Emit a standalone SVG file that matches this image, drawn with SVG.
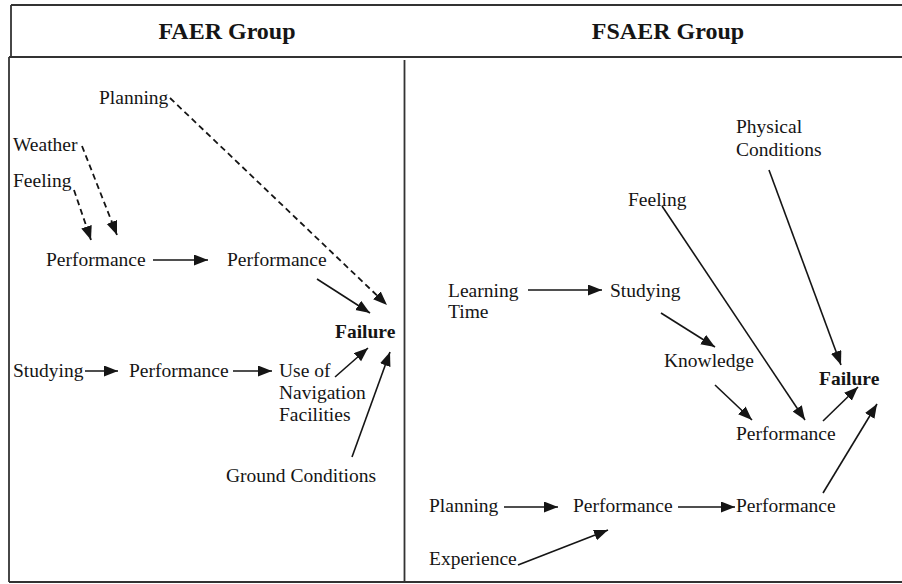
<svg xmlns="http://www.w3.org/2000/svg" width="902" height="584" viewBox="0 0 902 584">
  <style>
    .t { font-family: "Liberation Serif", "Times New Roman", serif; font-size: 19.5px; fill: #151515; }
    .b { font-weight: bold; }
    .h { font-family: "Liberation Serif", "Times New Roman", serif; font-size: 24px; font-weight: bold; fill: #151515; text-anchor: middle; }
    .frame { stroke: #333; stroke-width: 1.8; fill: none; }
    .c { stroke: #151515; stroke-width: 1.6; fill: none; marker-end: url(#ah); }
    .d { stroke-dasharray: 6 4; stroke-width: 1.8; }
  </style>
  <defs>
    <marker id="ah" markerUnits="userSpaceOnUse" markerWidth="15" markerHeight="12" refX="14" refY="5.5" orient="auto">
      <path d="M0,0 L14,5.5 L0,11 z" fill="#151515"/>
    </marker>
  </defs>
  <rect width="902" height="584" fill="#ffffff"/>
  <g id="frame">
    <line class="frame" x1="11" y1="5" x2="902" y2="5"/>
    <line class="frame" x1="11" y1="5" x2="11" y2="57"/>
    <line class="frame" x1="9" y1="57" x2="902" y2="57" stroke-width="2.4"/>
    <line class="frame" x1="9" y1="57" x2="9" y2="582"/>
    <line class="frame" x1="9" y1="582" x2="902" y2="582"/>
    <line class="frame" x1="404.5" y1="60" x2="404.5" y2="582"/>
  </g>
  <g id="headers">
    <text class="h" x="227" y="39">FAER Group</text>
    <text class="h" x="668" y="39">FSAER Group</text>
  </g>
  <g id="faer-nodes">
    <g id="l-planning"><text class="t" x="99" y="104">Planning</text></g>
    <g id="l-weather"><text class="t" x="13" y="151">Weather</text></g>
    <g id="l-feeling"><text class="t" x="13" y="187">Feeling</text></g>
    <g id="l-perf1"><text class="t" x="46" y="266">Performance</text></g>
    <g id="l-perf2"><text class="t" x="227" y="266">Performance</text></g>
    <g id="l-failure"><text class="t b" x="335" y="338">Failure</text></g>
    <g id="l-studying"><text class="t" x="13" y="377">Studying</text></g>
    <g id="l-perf3"><text class="t" x="129" y="377">Performance</text></g>
    <g id="l-nav"><text class="t" x="279" y="377">Use of</text><text class="t" x="279" y="399">Navigation</text><text class="t" x="279" y="421">Facilities</text></g>
    <g id="l-ground"><text class="t" x="226" y="482">Ground Conditions</text></g>
  </g>
  <g id="fsaer-nodes">
    <g id="r-physical"><text class="t" x="736" y="133">Physical</text><text class="t" x="736" y="156">Conditions</text></g>
    <g id="r-feeling"><text class="t" x="628" y="206">Feeling</text></g>
    <g id="r-learning"><text class="t" x="448" y="297">Learning</text><text class="t" x="448" y="318">Time</text></g>
    <g id="r-studying"><text class="t" x="610" y="297">Studying</text></g>
    <g id="r-knowledge"><text class="t" x="664" y="367">Knowledge</text></g>
    <g id="r-failure"><text class="t b" x="819" y="385">Failure</text></g>
    <g id="r-perf1"><text class="t" x="736" y="440">Performance</text></g>
    <g id="r-planning"><text class="t" x="429" y="512">Planning</text></g>
    <g id="r-perf2"><text class="t" x="573" y="512">Performance</text></g>
    <g id="r-perf3"><text class="t" x="736" y="512">Performance</text></g>
    <g id="r-experience"><text class="t" x="429" y="565">Experience</text></g>
  </g>
  <g id="connectors">
    <line class="c d" x1="74" y1="190" x2="91" y2="240"/>
    <line class="c d" x1="82" y1="146" x2="117" y2="235"/>
    <line class="c d" x1="170" y1="98" x2="387" y2="305"/>
    <line class="c" x1="153" y1="260" x2="208" y2="260"/>
    <line class="c" x1="317" y1="279" x2="370" y2="313"/>
    <line class="c" x1="85" y1="371" x2="118" y2="371"/>
    <line class="c" x1="233" y1="371" x2="272" y2="371"/>
    <line class="c" x1="335" y1="377" x2="368" y2="348"/>
    <line class="c" x1="352" y1="457" x2="390" y2="352"/>
    <line class="c" x1="769" y1="170" x2="841" y2="365"/>
    <line class="c" x1="662" y1="206" x2="805" y2="420"/>
    <line class="c" x1="528" y1="290" x2="602" y2="290"/>
    <line class="c" x1="661" y1="313" x2="715" y2="347"/>
    <line class="c" x1="715" y1="385" x2="752" y2="420"/>
    <line class="c" x1="823" y1="421" x2="858" y2="387"/>
    <line class="c" x1="823" y1="493" x2="877" y2="404"/>
    <line class="c" x1="504" y1="507" x2="558" y2="507"/>
    <line class="c" x1="678" y1="507" x2="735" y2="507"/>
    <line class="c" x1="518" y1="565" x2="608" y2="530"/>
  </g>
</svg>
